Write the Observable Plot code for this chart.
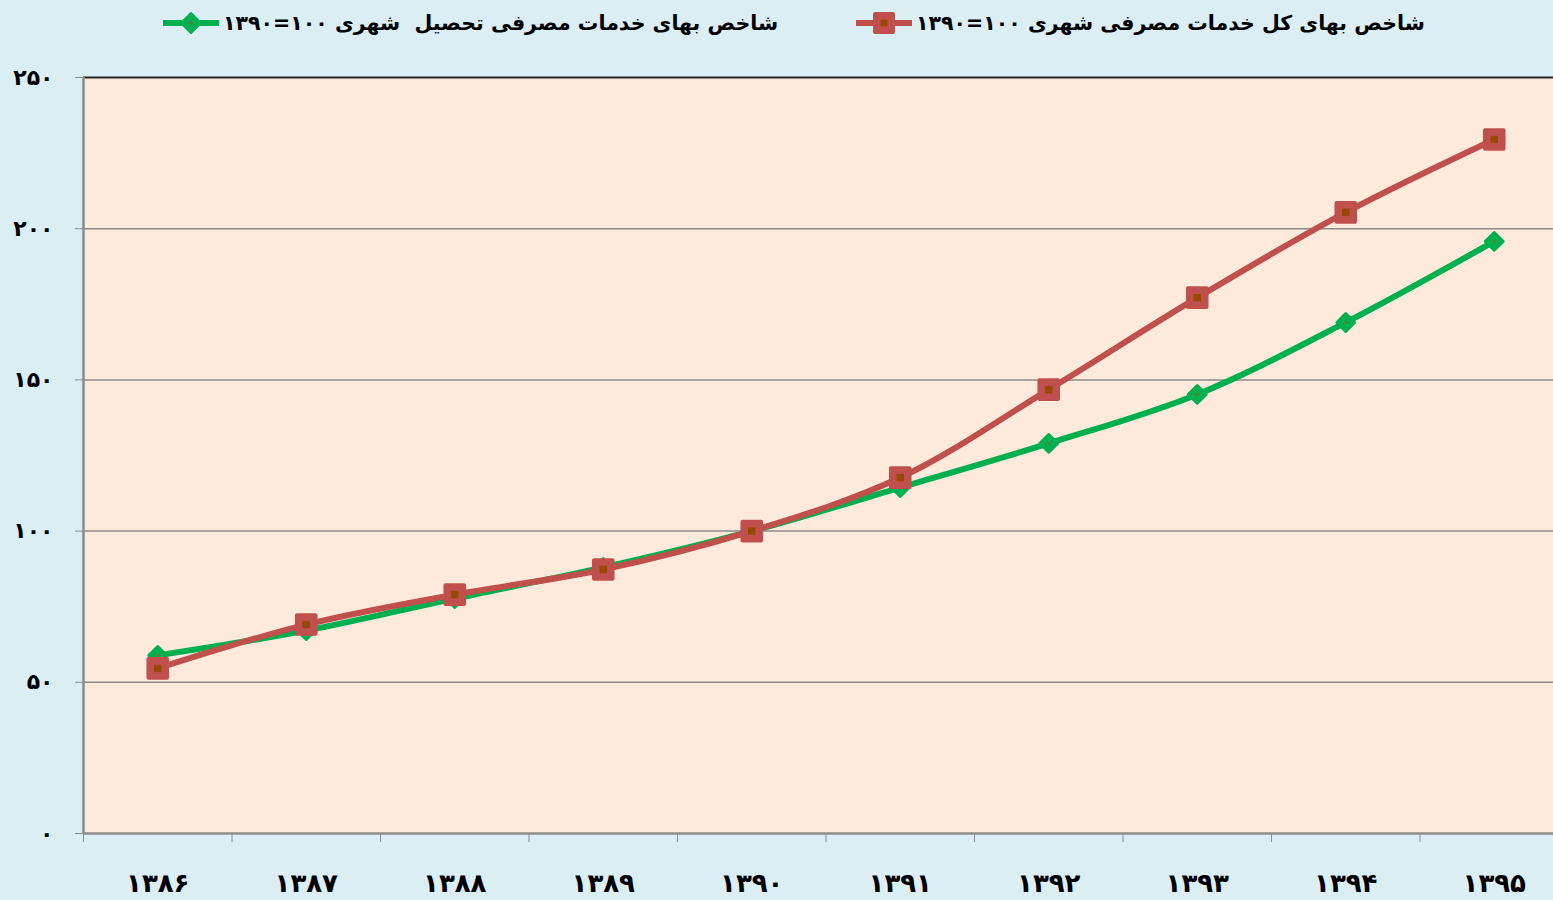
<!DOCTYPE html>
<html><head><meta charset="utf-8">
<script src="https://cdn.jsdelivr.net/npm/d3@7"></script>
<script src="https://cdn.jsdelivr.net/npm/@observablehq/plot@0.6"></script>
<style>
body{margin:0;background:#dbeef4;width:1553px;height:900px;overflow:hidden;font-family:"DejaVu Sans",sans-serif;}
#legend{position:relative;height:48px;}
.item{position:absolute;top:8px;display:flex;align-items:center;height:30px;}
.item span{direction:rtl;unicode-bidi:embed;white-space:pre;font-weight:bold;font-size:20.5px;color:#000;margin-left:4px;}
#chart svg{display:block;}
</style></head><body>
<div id="legend"></div>
<div id="chart"></div>
<script>
const years = [1386, 1387, 1388, 1389, 1390, 1391, 1392, 1393, 1394, 1395];
const yearLabels = ["۱۳۸۶", "۱۳۸۷", "۱۳۸۸", "۱۳۸۹", "۱۳۹۰", "۱۳۹۱", "۱۳۹۲", "۱۳۹۳", "۱۳۹۴", "۱۳۹۵"];
const educationIndex = [58.9, 67.1, 77.7, 88.0, 100, 114.4, 129.0, 145.2, 169.0, 195.8];
const totalIndex = [54.6, 69.1, 79.0, 87.3, 100, 117.7, 146.8, 177.2, 205.4, 229.5];
const yTicks = [0, 50, 100, 150, 200, 250];
const yTickLabels = ["۰", "۵۰", "۱۰۰", "۱۵۰", "۲۰۰", "۲۵۰"];
const seriesNames = ["شاخص بهای خدمات مصرفی تحصیل  شهری ۱۰۰=۱۳۹۰", "شاخص بهای کل خدمات مصرفی شهری ۱۰۰=۱۳۹۰"];
const seriesColors = ["#00b050", "#c0504d"];
const markerCore = ["#8a6a1e", "#984807"];

const edu = years.map((y, i) => ({year: y, value: educationIndex[i]}));
const tot = years.map((y, i) => ({year: y, value: totalIndex[i]}));
const boundaries = years.map(y => y - 0.5).concat([years[years.length - 1] + 0.5]);

// Legend
const legend = document.getElementById("legend");
const legendLeft = [163, 856];
seriesNames.forEach((name, i) => {
  const item = document.createElement("div");
  item.className = "item";
  item.style.left = legendLeft[i] + "px";
  const marker = i === 0
    ? `<path d="M28,4 L38,14 L28,24 L18,14 Z" fill="${seriesColors[0]}" stroke="${seriesColors[0]}" stroke-width="2" stroke-linejoin="round"/><circle cx="28" cy="14" r="1.3" fill="${markerCore[0]}"/>`
    : `<rect x="19" y="5" width="18" height="18" fill="${seriesColors[1]}" stroke="${seriesColors[1]}" stroke-width="4" stroke-linejoin="round"/><rect x="24.5" y="10.5" width="7" height="7" fill="${markerCore[1]}"/>`;
  item.innerHTML = `<svg width="56" height="28"><line x1="1" y1="14" x2="55" y2="14" stroke="${seriesColors[i]}" stroke-width="6" stroke-linecap="round"/>${marker}</svg><span>${name}</span>`;
  legend.appendChild(item);
});

const chart = Plot.plot({
  width: 1553,
  height: 852,
  marginLeft: 83,
  marginRight: 0,
  marginTop: 29,
  marginBottom: 67,
  style: {background: "transparent", fontFamily: "'DejaVu Sans', sans-serif", fontWeight: "bold", color: "#000"},
  x: {domain: [1385.5, 1395.5], range: [83, 1568], label: null},
  y: {domain: [0, 250], label: null},
  marks: [
    Plot.frame({fill: "#fdeadb", stroke: null}),
    Plot.ruleY(yTicks.filter(t => t > 0 && t < 250), {stroke: "#8c8c8c", strokeWidth: 1.5}),
    Plot.ruleY([250], {stroke: "#262626", strokeWidth: 2}),
    Plot.ruleY([0], {stroke: "#8c8c8c", strokeWidth: 2.5}),
    Plot.ruleX([1385.5], {stroke: "#8c8c8c", strokeWidth: 2.5}),
    Plot.axisY({ticks: yTicks, label: null, tickSize: 8, tickPadding: 22, stroke: "#8c8c8c", fill: "#000", fontSize: 22,
      tickFormat: d => yTickLabels[yTicks.indexOf(d)]}),
    Plot.axisX({ticks: boundaries, label: null, tickSize: 9, stroke: "#8c8c8c", tickFormat: () => ""}),
    Plot.axisX({ticks: years, label: null, tickSize: 0, tickPadding: 40, fill: "#000", fontSize: 26,
      tickFormat: d => yearLabels[years.indexOf(d)]}),
    Plot.line(edu, {x: "year", y: "value", curve: "catmull-rom", stroke: seriesColors[0], strokeWidth: 6}),
    Plot.dot(edu, {x: "year", y: "value", symbol: "diamond2", r: 8, fill: seriesColors[0], stroke: seriesColors[0], strokeWidth: 3, strokeLinejoin: "round"}),
    Plot.dot(edu, {x: "year", y: "value", r: 1.3, fill: markerCore[0]}),
    Plot.line(tot, {x: "year", y: "value", curve: "catmull-rom", stroke: seriesColors[1], strokeWidth: 6}),
    Plot.dot(tot, {x: "year", y: "value", symbol: "square", r: 10.5, fill: seriesColors[1], stroke: seriesColors[1], strokeWidth: 4, strokeLinejoin: "round"}),
    Plot.dot(tot, {x: "year", y: "value", symbol: "square", r: 4.2, fill: markerCore[1]})
  ]
});
document.getElementById("chart").appendChild(chart);
</script>
</body></html>
